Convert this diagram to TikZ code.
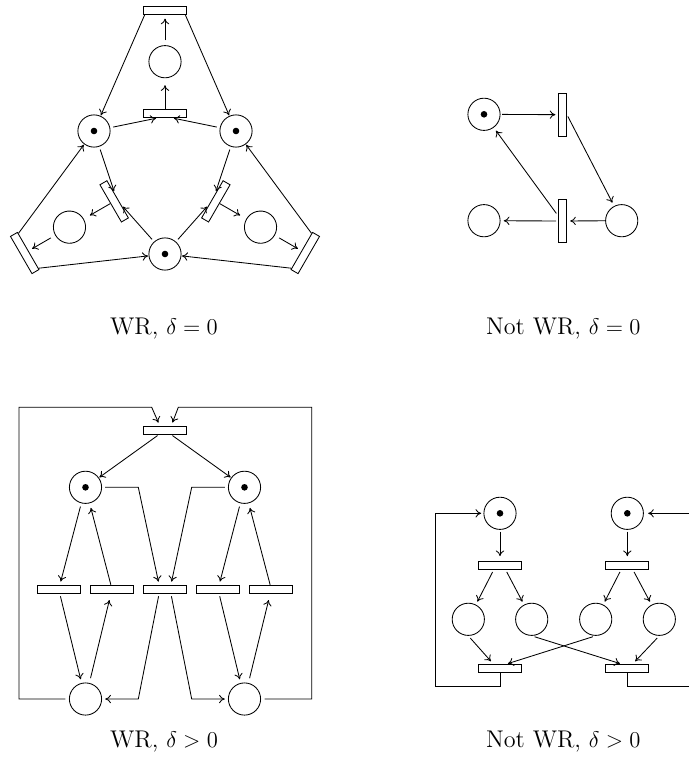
\documentclass[tikz,border=0pt]{standalone}
\usetikzlibrary{calc,arrows.meta}
\tikzset{
  pl/.style={circle,draw,minimum size=6mm,inner sep=0pt},
  tr/.style={rectangle,draw,minimum width=8mm,minimum height=1.5mm,inner sep=0pt},
  vtr/.style={rectangle,draw,minimum width=1.5mm,minimum height=8mm,inner sep=0pt},
  flow/.style={-{To[length=3pt,width=4.4pt]},shorten >=1.5pt,shorten <=1.5pt},
  lab/.style={anchor=base,inner sep=0pt,font=\fontsize{12.8}{15}\selectfont},
}
\newcommand\mytoken[1]{\fill (#1) circle[radius=1.75pt];}
\begin{document}
\begin{tikzpicture}[x=0.53pt,y=-0.53pt,line width=0.45pt]
\useasboundingbox (0,0) rectangle (688,767);

% ---------------- WR, delta = 0 ----------------
\coordinate (O) at (165,172);
\node[pl] (P1) at (94,131) {};
\node[pl] (P2) at (236,131) {};
\node[pl] (P3) at (165,254) {};
\mytoken{P1}\mytoken{P2}\mytoken{P3}
\foreach \k/\A/\B in {0/P1/P2,1/P3/P1,2/P2/P3}{
  \begin{scope}[rotate around={\k*120:(O)},transform shape]
    \node[tr] (ta\k) at (165,10) {};
    \node[pl] (q\k) at (165,61.7) {};
    \node[tr] (tb\k) at (165,113.3) {};
  \end{scope}
  \draw[flow,shorten <=0pt,shorten >=0.3pt] ($(ta\k.south west)!0.04!(ta\k.south east)$) -- (\A);
  \draw[flow,shorten <=0pt,shorten >=0.3pt] ($(ta\k.south east)!0.04!(ta\k.south west)$) -- (\B);
  \draw[flow,shorten <=2.6pt,shorten >=2.2pt] (q\k) -- (ta\k);
  \draw[flow,shorten <=0pt,shorten >=3.7pt] (tb\k) -- (q\k);
  \draw[flow,shorten <=1.6pt,shorten >=1.4pt] (\A) -- ($(tb\k.south)!0.29!(tb\k.south west)$);
  \draw[flow,shorten <=1.6pt,shorten >=1.4pt] (\B) -- ($(tb\k.south)!0.29!(tb\k.south east)$);
}
\node[lab] (l1) at (164,334) {WR, $\delta = 0$};

% ---------------- Not WR, delta = 0 ----------------
\node[pl] (m1) at (484,114.3) {};
\mytoken{m1}
\node[vtr] (u1) at (562.5,114.7) {};
\node[vtr] (u2) at (562.5,221) {};
\node[pl] (m2) at (484,220.7) {};
\node[pl] (m3) at (621.7,220.7) {};
\draw[flow,shorten <=0.9pt,shorten >=1.4pt] (m1) -- (u1);
\draw[flow,shorten <=1pt,shorten >=2pt] (u1.east) -- (m3);
\draw[flow,shorten <=0pt,shorten >=1.7pt] (m3) -- (u2);
\draw[flow,shorten <=1pt,shorten >=1.7pt] (u2) -- (m2);
\draw[flow,shorten <=1.5pt,shorten >=2pt] ($(u2.west)!0.24!(u2.north west)$) -- (m1);
\node[lab] (l2) at (563.3,334) {Not WR, $\delta = 0$};

% ---------------- WR, delta > 0 ----------------
\node[tr] (w0) at (165,430) {};
\node[pl] (wL) at (85.5,487.3) {};
\node[pl] (wR) at (244.5,487.3) {};
\mytoken{wL}\mytoken{wR}
\node[tr] (w1) at (58.7,589.2) {};
\node[tr] (w2) at (112,589.2) {};
\node[tr] (w3) at (165,589.2) {};
\node[tr] (w4) at (218,589.2) {};
\node[tr] (w5) at (271.3,589.2) {};
\node[pl] (bL) at (85.5,699) {};
\node[pl] (bR) at (244.5,699) {};
\draw[flow,shorten <=1pt,shorten >=0.3pt] ($(w0.south)!0.27!(w0.south west)$) -- (wL);
\draw[flow,shorten <=1pt,shorten >=0.3pt] ($(w0.south)!0.27!(w0.south east)$) -- (wR);
\draw[flow,shorten <=1.8pt,shorten >=1.75pt] (wL) -- (w1);
\draw[flow,shorten <=0pt,shorten >=2.5pt] (w2) -- (wL);
\draw[flow,shorten <=1.4pt,shorten >=2pt] (w1) -- (bL);
\draw[flow,shorten <=2.6pt,shorten >=3.5pt] (bL) -- (w2);
\draw[flow,shorten <=1.8pt,shorten >=1.75pt] (wR) -- (w4);
\draw[flow,shorten <=0pt,shorten >=2.5pt] (w5) -- (wR);
\draw[flow,shorten <=1.4pt,shorten >=2pt] (w4) -- (bR);
\draw[flow,shorten <=2.6pt,shorten >=3.5pt] (bR) -- (w5);
\coordinate (c1) at (138.3,487.3);
\coordinate (c2) at (191.7,487.3);
\coordinate (c3) at (138.3,699);
\coordinate (c4) at (191.7,699);
\draw[flow,shorten <=1.7pt,shorten >=1.7pt] (wL.east) -- (c1) -- ($(w3.north)!0.27!(w3.north west)$);
\draw[flow,shorten <=1.7pt,shorten >=1.7pt] (wR.west) -- (c2) -- ($(w3.north)!0.27!(w3.north east)$);
\draw[flow,shorten <=1.4pt,shorten >=1.7pt] ($(w3.south)!0.27!(w3.south west)$) -- (c3) -- (bL.east);
\draw[flow,shorten <=1.4pt,shorten >=1.7pt] ($(w3.south)!0.27!(w3.south east)$) -- (c4) -- (bR.west);
\coordinate (f1) at (19,699);
\coordinate (f2) at (19,407.3);
\coordinate (f3) at (151.7,407.3);
\coordinate (f4) at (311.7,699);
\coordinate (f5) at (311.7,407.3);
\coordinate (f6) at (178.3,407.3);
\draw[flow,shorten <=1.9pt,shorten >=1.7pt] (bL.west) -- (f1) -- (f2) -- (f3) -- ($(w0.north)!0.24!(w0.north west)$);
\draw[flow,shorten <=1.9pt,shorten >=1.7pt] (bR.east) -- (f4) -- (f5) -- (f6) -- ($(w0.north)!0.29!(w0.north east)$);
\node[lab] (l3) at (164,747) {WR, $\delta > 0$};

% ---------------- Not WR, delta > 0 ----------------
\node[pl] (x1) at (500,513.3) {};
\node[pl] (x2) at (627.3,513.3) {};
\mytoken{x1}\mytoken{x2}
\node[tr] (y1) at (500,565.5) {};
\node[tr] (y2) at (627.3,565.5) {};
\node[pl] (z1) at (468.3,619.3) {};
\node[pl] (z2) at (531.7,619.3) {};
\node[pl] (z3) at (595.7,619.3) {};
\node[pl] (z4) at (659.3,619.3) {};
\node[tr] (y3) at (500,668.5) {};
\node[tr] (y4) at (627.3,668.5) {};
\draw[flow,shorten <=0.9pt,shorten >=2.6pt] (x1) -- (y1);
\draw[flow,shorten <=0.9pt,shorten >=2.6pt] (x2) -- (y2);
\draw[flow,shorten <=1.2pt,shorten >=1.8pt] ($(y1.south)!0.29!(y1.south west)$) -- (z1);
\draw[flow,shorten <=1.2pt,shorten >=1.8pt] ($(y1.south)!0.26!(y1.south east)$) -- (z2);
\draw[flow,shorten <=1.2pt,shorten >=1.8pt] ($(y2.south)!0.29!(y2.south west)$) -- (z3);
\draw[flow,shorten <=1.2pt,shorten >=1.8pt] ($(y2.south)!0.26!(y2.south east)$) -- (z4);
\draw[flow,shorten <=1.6pt,shorten >=2pt] (z1.south) -- ($(y3.north)!0.3!(y3.north west)$);
\draw[flow,shorten <=1.6pt,shorten >=0.9pt] (z3.south) -- ($(y3.north)!0.29!(y3.north east)$);
\draw[flow,shorten <=1.6pt,shorten >=0.9pt] (z2.south) -- ($(y4.north)!0.26!(y4.north west)$);
\draw[flow,shorten <=1.6pt,shorten >=2pt] (z4.south) -- ($(y4.north)!0.24!(y4.north east)$);
\coordinate (g1) at (500,686);
\coordinate (g2) at (435.7,686);
\coordinate (g3) at (435.7,513.3);
\coordinate (g4) at (627.3,686);
\coordinate (g5) at (692,686);
\coordinate (g6) at (692,513.3);
\draw[flow,shorten <=0pt,shorten >=1.2pt] (y3.south) -- (g1) -- (g2) -- (g3) -- (x1.west);
\draw[flow,shorten <=0pt,shorten >=2.3pt] (y4.south) -- (g4) -- (g5) -- (g6) -- (x2.east);
\node[lab] (l4) at (563.3,747) {Not WR, $\delta > 0$};
\end{tikzpicture}
\end{document}
